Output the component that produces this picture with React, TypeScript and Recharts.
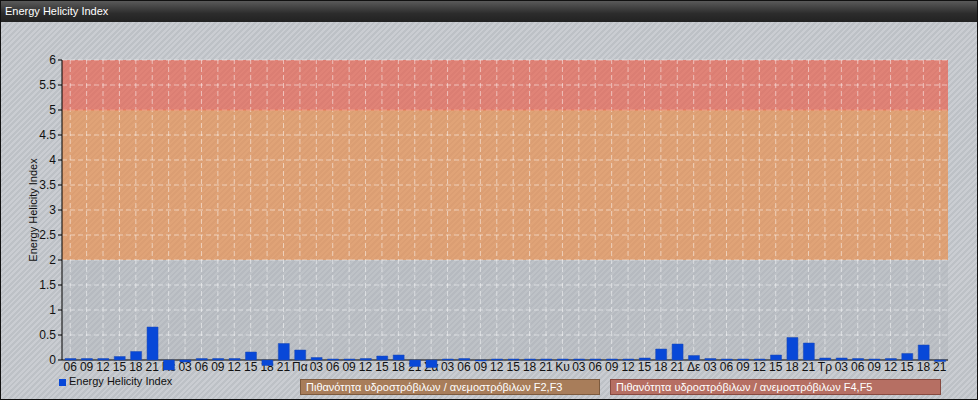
import React from 'react';
import {
    BarChart, Bar, XAxis, YAxis,
    ReferenceArea, ReferenceLine
} from 'recharts';

const slotLabels = [
    '06', '09', '12', '15', '18', '21',
    'Πε', '03', '06', '09', '12', '15', '18', '21',
    'Πα', '03', '06', '09', '12', '15', '18', '21',
    'Σα', '03', '06', '09', '12', '15', '18', '21',
    'Κυ', '03', '06', '09', '12', '15', '18', '21',
    'Δε', '03', '06', '09', '12', '15', '18', '21',
    'Τρ', '03', '06', '09', '12', '15', '18', '21',
];

const helicityValues = [
    0.03, 0.03, 0.03, 0.07, 0.17, 0.66,
    -0.2, -0.04, 0.03, 0.03, 0.03, 0.16, -0.11, 0.33,
    0.2, 0.05, 0.02, 0.02, 0.03, 0.08, 0.1, -0.13,
    -0.15, 0.02, 0.03, -0.02, 0.02, 0.02, 0.02, 0.02,
    0.02, 0.02, 0.02, 0.02, 0.02, 0.04, 0.22, 0.32,
    0.09, 0.03, 0.02, 0.02, 0.02, 0.1, 0.45, 0.34,
    0.04, 0.04, 0.03, 0.02, 0.03, 0.13, 0.3, -0.03,
];

const yTicks = [0, 0.5, 1, 1.5, 2, 2.5, 3, 3.5, 4, 4.5, 5, 5.5, 6];

const seriesName = 'Energy Helicity Index';
const bandF2F3 = 'Πιθανότητα υδροστρόβιλων / ανεμοστρόβιλων F2,F3';
const bandF4F5 = 'Πιθανότητα υδροστρόβιλων / ανεμοστρόβιλων F4,F5';

const data = slotLabels.map((label, slot) => ({ slot, label, value: helicityValues[slot] }));

const FONT = '"Liberation Sans", Arial, sans-serif';
const BAR_BLUE = '#0848d8';
const GRID = { stroke: '#ffffff', strokeOpacity: 0.5, strokeDasharray: '5 3' };
const layer: React.CSSProperties = { position: 'absolute', left: -1, top: -1, pointerEvents: 'none' };

const App = () => {
    return (
        <div style={{
            position: 'absolute', left: 0, top: 0, width: 978, height: 400,
            boxSizing: 'border-box', border: '1px solid #111', overflow: 'hidden',
            fontFamily: FONT,
            background: 'repeating-linear-gradient(135deg, #cacdd2 0px, #cacdd2 2px, #bdc1c6 2px, #bdc1c6 4px)'
        }}>
            {/* bands, grid and axes */}
            <div style={layer}>
                <BarChart width={978} height={400} data={data}
                    margin={{ top: 60, right: 30, bottom: 28, left: 0 }}>
                    <ReferenceArea y1={0} y2={2} fill="#a9aeb4" fillOpacity={0.35} stroke="none" />
                    <ReferenceArea y1={2} y2={5} fill="#eb8c46" fillOpacity={0.65} stroke="none" />
                    <ReferenceArea y1={5} y2={6} fill="#eb5a46" fillOpacity={0.65} stroke="none" />
                    {data.map(d => <ReferenceLine key={'v' + d.slot} x={d.slot} {...GRID} />)}
                    {yTicks.filter(t => t > 0).map(t => <ReferenceLine key={'h' + t} y={t} {...GRID} />)}
                    <ReferenceLine y={5} stroke="#ee7050" strokeOpacity={0.7} />
                    <XAxis dataKey="slot" type="category" interval={0} height={12}
                        tickFormatter={(v: number) => slotLabels[v]}
                        tickLine={false} tickSize={1} tickMargin={1}
                        axisLine={{ stroke: '#000' }}
                        tick={{ fontSize: 12, fill: '#111', fontFamily: FONT }} />
                    <YAxis domain={[0, 6]} ticks={yTicks} allowDataOverflow width={62}
                        axisLine={{ stroke: '#000' }} tickLine={{ stroke: '#000' }} tickSize={4}
                        tick={{ fontSize: 12, fill: '#111', fontFamily: FONT }}
                        label={{
                            value: seriesName, angle: -90, position: 'insideLeft', offset: 33,
                            style: { textAnchor: 'middle', fontSize: 11, fill: '#111', fontFamily: FONT }
                        }} />
                </BarChart>
            </div>
            {/* bars above zero, drawn over the grid */}
            <div style={layer}>
                <BarChart width={978} height={400} data={data}
                    margin={{ top: 60, right: 30, bottom: 40, left: 62 }} barSize={11}>
                    <XAxis dataKey="slot" type="category" hide />
                    <YAxis domain={[0, 6]} allowDataOverflow hide />
                    <Bar dataKey="value" name={seriesName} fill={BAR_BLUE} stroke="#1c48b0" strokeWidth={0.5} isAnimationActive={false} />
                </BarChart>
            </div>
            {/* negative bars hang below the zero line, over the tick labels */}
            <div style={layer}>
                <BarChart width={978} height={400} data={data}
                    margin={{ top: 360, right: 30, bottom: 25, left: 62 }} barSize={11}>
                    <XAxis dataKey="slot" type="category" hide />
                    <YAxis domain={[-0.3, 0]} allowDataOverflow hide />
                    <Bar dataKey="value" fill={BAR_BLUE} stroke="#1c48b0" strokeWidth={0.5} isAnimationActive={false} />
                </BarChart>
            </div>
            <div style={{
                position: 'absolute', left: 0, top: 0, width: '100%', height: 21,
                background: 'linear-gradient(#5a5a5a, #2c2c2c 60%, #222)',
                color: '#fff', fontSize: 11, lineHeight: '21px', paddingLeft: 4
            }}>{seriesName}</div>
            <div style={{ position: 'absolute', left: 58, top: 374, fontSize: 11, color: '#111', display: 'flex', alignItems: 'center' }}>
                <span style={{ display: 'inline-block', width: 7, height: 7, background: BAR_BLUE, marginRight: 3, marginTop: 2 }} />
                {seriesName}
            </div>
            <div style={{
                position: 'absolute', left: 299, top: 378, width: 300, height: 16, boxSizing: 'border-box',
                background: '#a87d5a', border: '1px solid #7c5a3e', color: '#fff', fontSize: 11,
                lineHeight: '14px', paddingLeft: 5
            }}>{bandF2F3}</div>
            <div style={{
                position: 'absolute', left: 609, top: 378, width: 331, height: 16, boxSizing: 'border-box',
                background: '#b66f63', border: '1px solid #874a40', color: '#fff', fontSize: 11,
                lineHeight: '14px', paddingLeft: 5
            }}>{bandF4F5}</div>
        </div>
    );
};

export default App;
